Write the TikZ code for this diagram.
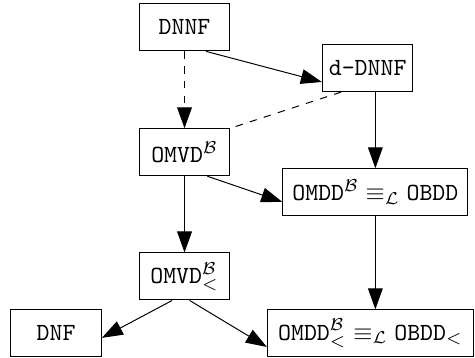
\documentclass[tikz,border=0pt]{standalone}
\usepackage{amssymb}
\usepackage{amsmath}
\usetikzlibrary{calc,positioning,arrows.meta}
\newcommand{\cB}{\mathcal{B}}
\newcommand{\cL}{\mathcal{L}}

\begin{document}
\begin{tikzpicture}[x=1cm,y=1cm,
    box/.style={draw, minimum height=.67cm, minimum width=1.29cm, inner xsep=2pt, font=\ttfamily},
    arr/.style={-{Triangle[length=8.5pt,width=6pt]}}]
    \useasboundingbox (0,0) rectangle (6.77,-5.10);

    \node[box] (DNNF) at (2.63,-0.39) {DNNF};
    \node[box] (dDNNF) at (5.24,-0.97) {d-DNNF};
    \node[box] (OMVD) at (2.63,-2.17) {$\texttt{OMVD}^{\cB}$};
    \node[box, minimum width=2.64cm] (OMDD) at (5.35,-2.74) {$\texttt{OMDD}^{\cB}\equiv_{\cL}\texttt{OBDD}$};
    \node[box] (OMVDlt) at (2.63,-3.94) {$\texttt{OMVD}^{\cB}_{<}$};
    \node[box] (DNF) at (0.80,-4.75) {DNF};
    \node[box, minimum width=2.94cm] (OMDDlt) at (5.28,-4.75) {$\texttt{OMDD}^{\cB}_{<}\equiv_{\cL}\texttt{OBDD}_{<}$};

    \draw[arr] ($(DNNF.south)!.47!(DNNF.south east)$) -- ($(dDNNF.west)!.58!(dDNNF.south west)$);
    \draw[arr, dashed] (DNNF) -- (OMVD);
    \draw[dashed] ($(dDNNF.south west)!.42!(dDNNF.south)$) -- (OMVD.north east);
    \draw[arr] (OMDD.north |- dDNNF.south) -- (OMDD.north);
    \draw[arr] ($(OMVD.south)!.5!(OMVD.south east)$) -- ($(OMDD.west)!.4!(OMDD.south west)$);
    \draw[arr] (OMVD) -- (OMVDlt);
    \draw[arr] (OMDD.south) -- (OMDD.south |- OMDDlt.north);
    % last row
    \draw[arr] ($(OMVDlt.south)!.27!(OMVDlt.south west)$) -- ($(DNF.east)!.19!(DNF.south east)$);
    \draw[arr] ($(OMVDlt.south)!.11!(OMVDlt.south east)$) -- ($(OMDDlt.west)!.57!(OMDDlt.south west)$);
\end{tikzpicture}
\end{document}
